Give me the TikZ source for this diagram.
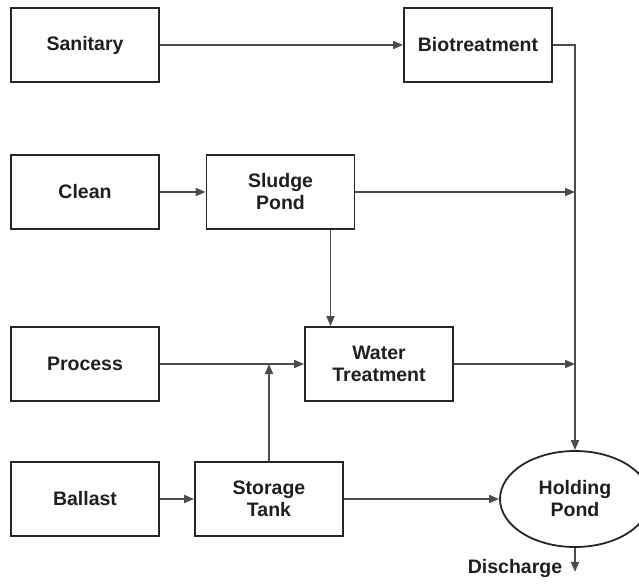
\documentclass[tikz,border=0pt]{standalone}
\usepackage{fontspec}
\setmainfont{Liberation Sans}
\usetikzlibrary{shapes,arrows,arrows.meta}
\tikzstyle{unit} = [rectangle, minimum width=148pt, minimum height=74pt, align=center, draw=black!85, line width=1.8pt, font=\fontsize{19.5}{22}\selectfont\bfseries, text=black!88]
\tikzstyle{pond} = [ellipse, minimum width=150pt, minimum height=96pt, inner sep=0pt, align=center, draw=black!85, line width=1.8pt, font=\fontsize{19.5}{22}\selectfont\bfseries, text=black!88]
\tikzstyle{outText} = [font=\fontsize{19.5}{22}\selectfont\bfseries, text=black!88, inner sep=0pt]
\tikzstyle{arrow} = [line width=1.8pt, draw=black!70, ->, >={Triangle[length=10pt,width=8pt]}]

\begin{document}
\begin{tikzpicture}[node distance=147pt]
\useasboundingbox (0,0) rectangle (639pt,-584pt);

\node (sanitary) [unit] at (85pt,-45pt) {Sanitary};
\node (bioTreat) [unit, right of=sanitary, xshift=246pt] {Biotreatment};
\node (clean) [unit, below of=sanitary] {Clean};
\node (sludge) [unit, right of=clean, xshift=48.5pt] {Sludge\\Pond};
\node (process) [unit, below of=clean, yshift=-25pt] {Process};
\node (waterTreat) [unit, right of=process, xshift=147pt] {Water\\Treatment};
\node (ballast) [unit, below of=process, yshift=12pt] {Ballast};
\node (storage) [unit, right of=ballast, xshift=37pt] {Storage\\Tank};
\node (holdPond) [pond, right of=storage, xshift=159pt] {Holding\\Pond};

\draw [arrow] (sanitary) -- (bioTreat);
\draw [arrow] (bioTreat) -| (holdPond);
\draw [arrow] (clean) -- (sludge);
\draw [arrow] (sludge) -- (sludge -| holdPond);
\draw [arrow] ([xshift=50pt]sludge.south) -- ([xshift=50pt]sludge.south |- waterTreat.north);
\draw [arrow] (process) -- (waterTreat);
\draw [arrow] (storage.north) -- (storage.north |- process);
\draw [arrow] (waterTreat) -- (waterTreat -| holdPond);
\draw [arrow] (ballast) -- (storage);
\draw [arrow] (storage) -- (holdPond);
\draw [arrow] (holdPond.south) -- ++(0,-24pt) node [outText, anchor=east, xshift=-12pt, yshift=3pt] {Discharge};

\end{tikzpicture}
\end{document}
